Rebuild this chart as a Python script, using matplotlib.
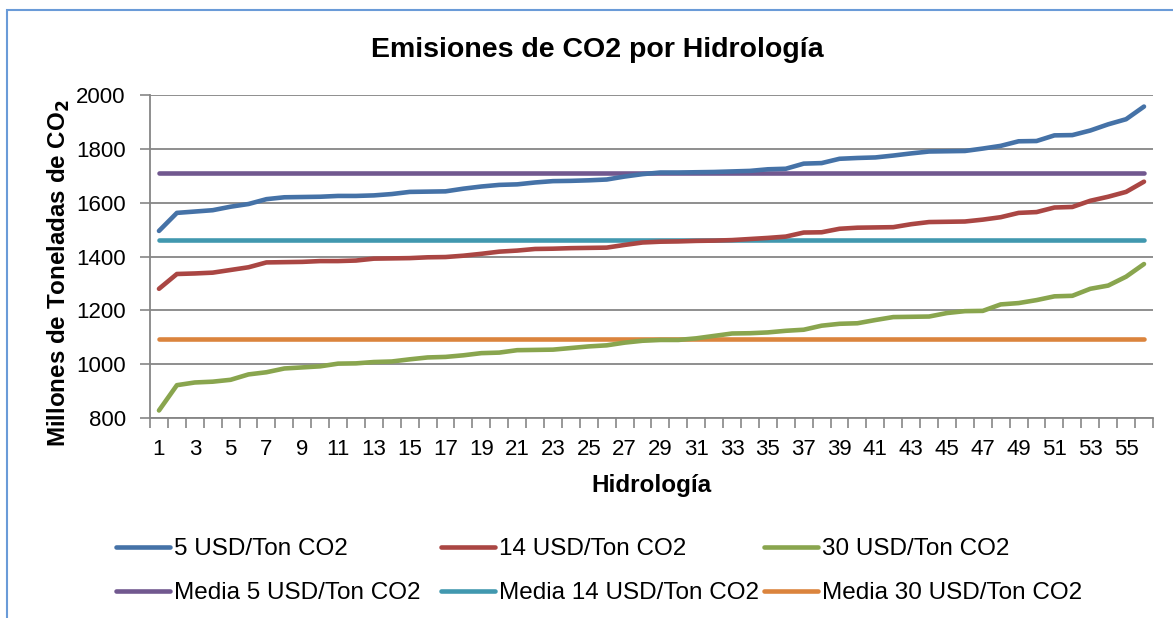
import matplotlib
matplotlib.use("Agg")
import matplotlib.pyplot as plt
from matplotlib.patches import Rectangle

plt.rcParams['font.family'] = ['Liberation Sans', 'DejaVu Sans']

# hidrologias 1..56, ordered from lowest to highest emissions
hidrologia = list(range(1, 57))

usd5 = [1495, 1562, 1567, 1572, 1585, 1595, 1613, 1620, 1621, 1622,
        1625, 1625, 1627, 1632, 1640, 1641, 1642, 1652, 1660, 1666,
        1668, 1675, 1680, 1681, 1683, 1686, 1697, 1706, 1712, 1712,
        1713, 1714, 1716, 1718, 1724, 1726, 1745, 1747, 1763, 1766,
        1768, 1775, 1783, 1790, 1791, 1792, 1801, 1811, 1828, 1829,
        1850, 1851, 1868, 1891, 1910, 1957]
usd14 = [1280, 1335, 1337, 1340, 1350, 1360, 1378, 1379, 1380, 1383,
         1383, 1385, 1392, 1393, 1394, 1397, 1398, 1403, 1410, 1418,
         1422, 1428, 1429, 1431, 1432, 1433, 1443, 1452, 1455, 1456,
         1458, 1459, 1461, 1465, 1469, 1474, 1489, 1490, 1503, 1507,
         1508, 1509, 1520, 1528, 1529, 1530, 1537, 1546, 1562, 1565,
         1582, 1584, 1607, 1622, 1640, 1678]
usd30 = [828, 922, 932, 935, 942, 962, 970, 984, 988, 992,
         1002, 1003, 1008, 1010, 1018, 1025, 1027, 1033, 1041, 1043,
         1052, 1053, 1054, 1060, 1066, 1070, 1080, 1087, 1090, 1090,
         1096, 1105, 1114, 1115, 1118, 1124, 1128, 1143, 1150, 1152,
         1164, 1175, 1176, 1177, 1190, 1197, 1198, 1222, 1227, 1238,
         1252, 1254, 1280, 1292, 1325, 1372]

media5 = 1710
media14 = 1460
media30 = 1095

fig = plt.figure(figsize=(11.73, 6.18), dpi=100)
ax = fig.add_axes([0.1279, 0.3236, 0.855, 0.5227])

# chart frame (only left and top visible in the picture)
fig.patches.append(Rectangle((7 / 1173, -0.05), 1.1, 1 - 10 / 618 + 0.05,
                             transform=fig.transFigure, fill=False,
                             edgecolor='#6A9BD8', lw=1.5))

lw = 3.3
kw = dict(lw=lw, solid_capstyle='round', solid_joinstyle='round')
l5, = ax.plot(hidrologia, usd5, color='#4572A7', label='5 USD/Ton CO2', zorder=3, **kw)
l14, = ax.plot(hidrologia, usd14, color='#AA4643', label='14 USD/Ton CO2', zorder=3, **kw)
l30, = ax.plot(hidrologia, usd30, color='#89A54E', label='30 USD/Ton CO2', zorder=3, **kw)
m5, = ax.plot(hidrologia, [media5] * len(hidrologia), color='#71588F', label='Media 5 USD/Ton CO2', zorder=2, **kw)
m14, = ax.plot(hidrologia, [media14] * len(hidrologia), color='#4198AF', label='Media 14 USD/Ton CO2', zorder=2, **kw)
m30, = ax.plot(hidrologia, [media30] * len(hidrologia), color='#DB843D', label='Media 30 USD/Ton CO2', zorder=2, **kw)

ax.set_xlim(0.5, 56.5)
ax.set_ylim(800, 2000)
ax.set_yticks(range(800, 2001, 200))
ax.set_xticks(hidrologia[::2])
ax.set_xticks([i + 0.5 for i in range(0, 57)], minor=True)
ax.tick_params(axis='x', which='major', length=0, pad=15, labelsize=16)
ax.tick_params(axis='x', which='minor', length=7, width=1.2, color='#868686')
ax.tick_params(axis='y', length=7, width=1.2, color='#868686', labelsize=16, pad=10.5)
ax.grid(axis='y', color='#868686', lw=1.3)
ax.set_axisbelow(True)
for s in ['top', 'right']:
    ax.spines[s].set_visible(False)
for s in ['left', 'bottom']:
    ax.spines[s].set_color('#868686')
    ax.spines[s].set_linewidth(1.3)

ax.set_title('Emisiones de CO2 por Hidrología', fontsize=20.5, fontweight='bold', pad=27, x=0.4457)
ax.set_xlabel('Hidrología', fontsize=17.5, fontweight='bold', labelpad=10)
ax.set_ylabel('Millones de Toneladas de CO$_\\mathbf{2}$', fontsize=17.4, fontweight='bold')
ax.yaxis.set_label_coords(-0.078, 0.45)

# one legend per column so the columns sit where excel put them
cols = [(116, [l5, m5]), (441, [l14, m14]), (764, [l30, m30])]
for xpx, hs in cols:
    leg = fig.legend(handles=hs, labels=[h.get_label() for h in hs],
                     loc='upper left', bbox_to_anchor=(xpx / 1173, 1 - 538 / 618),
                     bbox_transform=fig.transFigure, frameon=False,
                     fontsize=17.5, handlelength=2.22, handletextpad=0.16,
                     labelspacing=0.91, borderpad=0, borderaxespad=0)

fig.savefig('out.png', dpi=100)
